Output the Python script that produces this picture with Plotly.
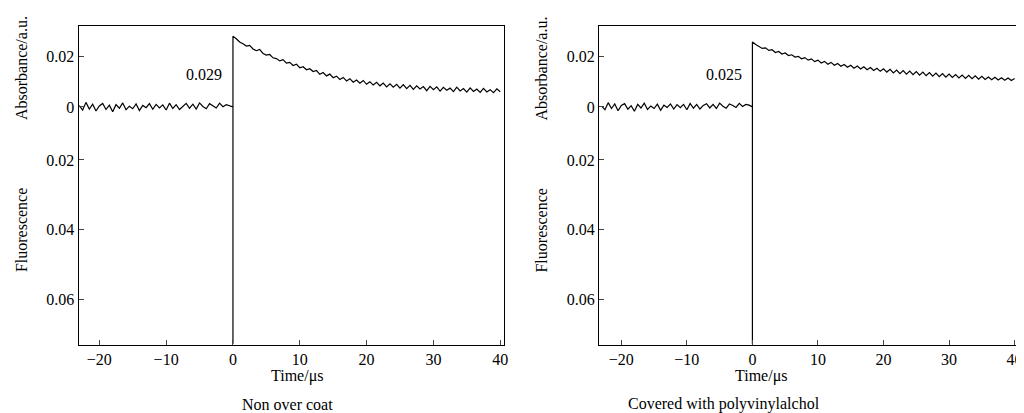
import plotly.graph_objects as go

# time axis (µs)
t_pre = [-23 + 0.5*i for i in range(46)]
t_post = [0.5 + 0.5*i for i in range(80)]
fluor_drop = -0.093  # fluorescence spike to bottom at t=0

pre_left = [0.0005,-0.0012,0.0018,-0.0008,0.0011,-0.0016,0.0004,0.0014,-0.0010,0.0007,
            -0.0019,0.0009,-0.0005,0.0016,-0.0011,0.0003,-0.0007,0.0012,-0.0014,0.0006,
            -0.0003,0.0013,-0.0009,0.0010,-0.0004,0.0008,-0.0012,0.0015,-0.0006,0.0009,
            -0.0010,0.0004,0.0014,-0.0005,0.0011,-0.0008,0.0016,0.0002,-0.0007,0.0013,
            0.0005,-0.0004,0.0015,0.0001,0.0009,0.0006]
post_left = [0.0268,0.0255,0.0248,0.0239,0.0242,0.0228,0.0221,0.0226,0.0210,0.0204,
             0.0206,0.0193,0.0190,0.0181,0.0186,0.0172,0.0175,0.0163,0.0168,0.0154,
             0.0158,0.0146,0.0150,0.0139,0.0143,0.0128,0.0135,0.0122,0.0129,0.0115,
             0.0121,0.0108,0.0116,0.0102,0.0111,0.0097,0.0106,0.0093,0.0104,0.0089,
             0.0099,0.0086,0.0097,0.0083,0.0094,0.0079,0.0091,0.0078,0.0089,0.0074,
             0.0088,0.0072,0.0085,0.0069,0.0083,0.0071,0.0080,0.0064,0.0081,0.0068,
             0.0079,0.0062,0.0077,0.0066,0.0074,0.0060,0.0078,0.0063,0.0072,0.0058,
             0.0075,0.0061,0.0070,0.0057,0.0073,0.0059,0.0068,0.0056,0.0071,0.0060]
pre_right = [0.0003,-0.0011,0.0017,-0.0006,0.0012,-0.0015,0.0006,0.0013,-0.0009,0.0005,
             -0.0017,0.0010,-0.0004,0.0015,-0.0010,0.0004,-0.0006,0.0011,-0.0013,0.0007,
             -0.0002,0.0012,-0.0008,0.0009,-0.0003,0.0010,-0.0011,0.0014,-0.0005,0.0010,
             -0.0008,0.0006,0.0013,-0.0004,0.0010,-0.0006,0.0015,0.0003,-0.0005,0.0012,
             0.0006,-0.0002,0.0014,0.0002,0.0010,0.0007]
post_right = [0.0245,0.0236,0.0230,0.0232,0.0222,0.0225,0.0214,0.0218,0.0208,0.0212,
              0.0202,0.0205,0.0196,0.0199,0.0189,0.0194,0.0184,0.0189,0.0178,0.0184,
              0.0173,0.0179,0.0168,0.0175,0.0164,0.0171,0.0160,0.0167,0.0156,0.0164,
              0.0152,0.0161,0.0149,0.0158,0.0146,0.0155,0.0143,0.0152,0.0140,0.0150,
              0.0137,0.0148,0.0134,0.0145,0.0131,0.0143,0.0129,0.0141,0.0127,0.0139,
              0.0125,0.0137,0.0123,0.0135,0.0121,0.0133,0.0119,0.0131,0.0117,0.0129,
              0.0116,0.0127,0.0114,0.0125,0.0112,0.0124,0.0111,0.0122,0.0109,0.0120,
              0.0108,0.0118,0.0107,0.0117,0.0106,0.0115,0.0105,0.0114,0.0104,0.0112]

peak_labels = ["0.029", "0.025"]
captions = ["Non over coat", "Covered with polyvinylalchol"]
y_tickvals = [0.02, 0, -0.0208, -0.0482, -0.0757]
y_ticktext = ["0.02", "0", "0.02", "0.04", "0.06"]
x_tickvals = [-20, -10, 0, 10, 20, 30, 40]

F = "Liberation Serif"
FS = 16
fig = go.Figure()
panels = [(pre_left, post_left, [0.0693, 0.4863]), (pre_right, post_right, [0.580, 0.993])]
for i, (pre, post, dom) in enumerate(panels):
    xs = t_pre + [0, 0, 0] + t_post
    ys = pre + [0, fluor_drop, post[0] + 0.001] + post
    n = "" if i == 0 else "2"
    fig.add_trace(go.Scatter(x=xs, y=ys, mode="lines", line=dict(color="black", width=1.2),
                             xaxis="x" + n, yaxis="y" + n, showlegend=False))
    ax = dict(domain=dom, range=[-23.1, 40.5] if i == 0 else [-23.4, 40.8],
              tickvals=x_tickvals, ticks="inside", ticklen=5, showline=True, mirror=True,
              linecolor="black", linewidth=1.2, showgrid=False, zeroline=False,
              tickfont=dict(family=F, size=FS, color="black"), anchor="y" + n)
    ay = dict(domain=[0, 1], range=[-0.0935, 0.0318], tickvals=y_tickvals, ticktext=y_ticktext,
              ticks="inside", ticklen=5, showline=True, mirror=True, linecolor="black",
              linewidth=1.2, showgrid=False, zeroline=False,
              tickfont=dict(family=F, size=FS, color="black"), anchor="x" + n)
    fig.layout["xaxis" + n] = ax
    fig.layout["yaxis" + n] = ay
    xref = "x" + n
    fig.add_annotation(x=-1.3, y=0.0128, xref=xref, yref="y" + n, text=peak_labels[i],
                       showarrow=False, xanchor="right", font=dict(family=F, size=FS, color="black"))
    fig.add_annotation(x=(262/1024 if i == 0 else 785/1024), y=0, yanchor="middle", yshift=-31,
                       xref="paper", yref="paper",
                       text="Time/μs", showarrow=False, font=dict(family=F, size=FS, color="black"))
    fig.add_annotation(x=(233/1024 if i == 0 else 818/1024), y=0, yanchor="middle", yshift=-59,
                       xref="paper", yref="paper", text=captions[i], showarrow=False,
                       font=dict(family=F, size=FS, color="black"))
    lx = (13/1024) if i == 0 else (536/1024)
    fig.add_annotation(x=lx, y=0.868, xref="paper", yref="paper", text="Absorbance/a.u.",
                       xanchor="center", yanchor="middle",
                       textangle=-90, showarrow=False, font=dict(family=F, size=FS, color="black"))
    fig.add_annotation(x=lx, y=0.36, xref="paper", yref="paper", text="Fluorescence",
                       xanchor="center", yanchor="middle",
                       textangle=-90, showarrow=False, font=dict(family=F, size=FS, color="black"))

fig.update_layout(width=1024, height=413, margin=dict(l=0, r=0, t=18, b=76),
                  paper_bgcolor="white", plot_bgcolor="white")
fig.write_html("out.html")
